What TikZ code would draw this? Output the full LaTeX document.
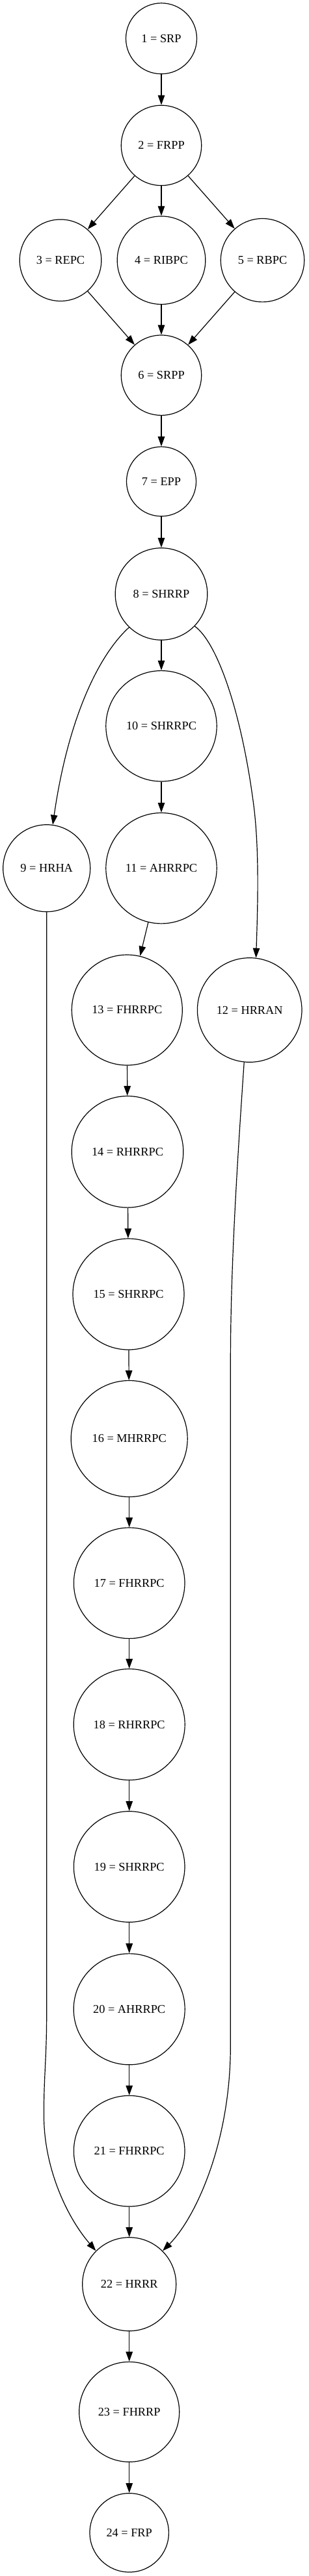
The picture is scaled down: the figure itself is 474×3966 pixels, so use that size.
\documentclass[tikz,border=0pt]{standalone}
\usepackage{fontspec}
\setmainfont{Liberation Serif}
\usetikzlibrary{arrows.meta}
\begin{document}
\begin{tikzpicture}[x=1pt,y=-1pt,
  st/.style={circle,draw,line width=1.2pt,inner sep=0pt,font=\fontsize{18.3}{22}\selectfont},
  ed/.style={line width=1.2pt,-{Triangle[length=15pt,width=10.5pt]}}]
\useasboundingbox (0,0) rectangle (474,3966);
\node[st,minimum size=109pt]   (n1)  at (248,59.3)   {1 = SRP};
\node[st,minimum size=123.4pt] (n2)  at (248,223.9)  {2 = FRPP};
\node[st,minimum size=125.6pt] (n3)  at (93,400.7)   {3 = REPC};
\node[st,minimum size=135.6pt] (n4)  at (248,400.7)  {4 = RIBPC};
\node[st,minimum size=128.4pt] (n5)  at (403.5,400.7) {5 = RBPC};
\node[st,minimum size=123.4pt] (n6)  at (248,577.7)  {6 = SRPP};
\node[st,minimum size=107pt]   (n7)  at (248,741.3)  {7 = EPP};
\node[st,minimum size=141.6pt] (n8)  at (248,914.5)  {8 = SHRRP};
\node[st,minimum size=134pt]   (n9)  at (71.7,1336.7) {9 = HRHA};
\node[st,minimum size=170.4pt] (n10) at (248,1117.8) {10 = SHRRPC};
\node[st,minimum size=170.4pt] (n11) at (248,1336.7) {11 = AHRRPC};
\node[st,minimum size=160.6pt] (n12) at (383.7,1555) {12 = HRRAN};
\node[st,minimum size=170pt]   (n13) at (195.3,1555) {13 = FHRRPC};
\node[st,minimum size=171.6pt] (n14) at (196,1773.3) {14 = RHRRPC};
\node[st,minimum size=171pt]   (n15) at (197.5,1992.5) {15 = SHRRPC};
\node[st,minimum size=179pt]   (n16) at (198.7,2215) {16 = MHRRPC};
\node[st,minimum size=170.6pt] (n17) at (198.7,2437.3) {17 = FHRRPC};
\node[st,minimum size=171pt]   (n18) at (198.7,2655) {18 = RHRRPC};
\node[st,minimum size=170.6pt] (n19) at (198.7,2874) {19 = SHRRPC};
\node[st,minimum size=171pt]   (n20) at (198.7,3093.3) {20 = AHRRPC};
\node[st,minimum size=170.6pt] (n21) at (198.7,3311.7) {21 = FHRRPC};
\node[st,minimum size=144pt]   (n22) at (198.7,3516.7) {22 = HRRR};
\node[st,minimum size=154pt]   (n23) at (198.7,3713.3) {23 = FHRRP};
\node[st,minimum size=121.4pt] (n24) at (198.7,3899.3) {24 = FRP};
\draw[ed] (n1) -- (n2);
\draw[ed] (n2) -- (n3);
\draw[ed] (n2) -- (n4);
\draw[ed] (n2) -- (n5);
\draw[ed] (n3) -- (n6);
\draw[ed] (n4) -- (n6);
\draw[ed] (n5) -- (n6);
\draw[ed] (n6) -- (n7);
\draw[ed] (n7) -- (n8);
\draw[ed] (n8.226) .. controls (150,1010) and (104,1110) .. (n9.82);
\draw[ed] (n8) -- (n10);
\draw[ed] (n8.316) .. controls (335,990) and (372,1100) .. (390,1240) .. controls (399,1310) and (396,1400) .. (n12.83);
\draw[ed] (n10) -- (n11);
\draw[ed] (n11) -- (n13);
\draw[ed] (n13) -- (n14);
\draw[ed] (n14) -- (n15);
\draw[ed] (n15) -- (n16);
\draw[ed] (n16) -- (n17);
\draw[ed] (n17) -- (n18);
\draw[ed] (n18) -- (n19);
\draw[ed] (n19) -- (n20);
\draw[ed] (n20) -- (n21);
\draw[ed] (n21) -- (n22);
\draw[ed] (n9.south) -- (71.7,3100) .. controls (71.7,3170) and (67,3200) .. (67.5,3260) .. controls (68.2,3335) and (100,3410) .. (n22.135);
\draw[ed] (n12.264) .. controls (365,1786) and (354.3,1950) .. (354.3,2100) -- (354.3,3150) .. controls (354.3,3300) and (299.6,3415.8) .. (n22.45);
\draw[ed] (n22) -- (n23);
\draw[ed] (n23) -- (n24);
\end{tikzpicture}
\end{document}
